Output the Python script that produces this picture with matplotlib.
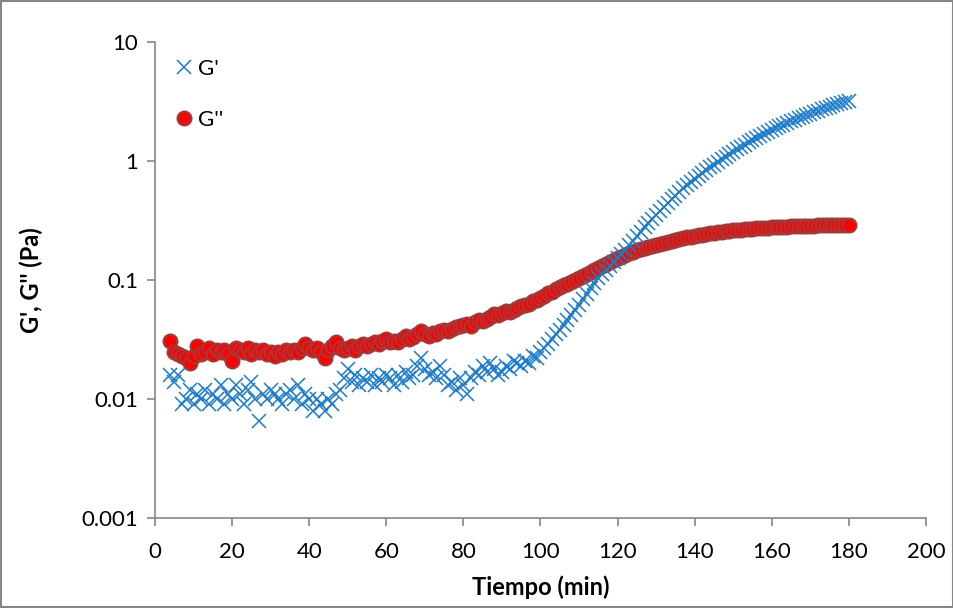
import numpy as np
import matplotlib.pyplot as plt
from matplotlib.patches import Rectangle

plt.rcParams['font.family'] = ['Lato', 'DejaVu Sans']

# tiempo (min), una medida por minuto
tiempo = np.arange(4, 181)

# G' (Pa)
g_prima = [
    0.016, 0.014, 0.016, 0.009, 0.010, 0.012, 0.009, 0.011, 0.010, 0.012,
    0.009, 0.011, 0.010, 0.013, 0.009, 0.011, 0.010, 0.013, 0.011, 0.009,
    0.012, 0.014, 0.010, 0.0065, 0.011, 0.010, 0.012, 0.011, 0.010, 0.009,
    0.011, 0.012, 0.010, 0.013, 0.009, 0.011, 0.010, 0.008, 0.010, 0.009,
    0.008, 0.010, 0.009, 0.011, 0.012, 0.015, 0.018, 0.014, 0.016, 0.013,
    0.015, 0.014, 0.016, 0.013, 0.015, 0.014, 0.016, 0.015, 0.013, 0.016,
    0.014, 0.017, 0.015, 0.016, 0.019, 0.022, 0.018, 0.016, 0.017, 0.015,
    0.019, 0.016, 0.013, 0.014, 0.012, 0.015, 0.013, 0.011, 0.015, 0.017,
    0.016, 0.019, 0.017, 0.020, 0.018, 0.016, 0.017, 0.019, 0.018, 0.021,
    0.020, 0.019, 0.021, 0.020, 0.023, 0.022, 0.025, 0.027, 0.029, 0.032,
    0.035, 0.038, 0.042, 0.046, 0.051, 0.056, 0.062, 0.069, 0.076, 0.085,
    0.094, 0.104, 0.113, 0.122, 0.132, 0.142, 0.152, 0.166, 0.180, 0.196,
    0.214, 0.234, 0.255, 0.278, 0.301, 0.325, 0.35, 0.38, 0.41, 0.44,
    0.475, 0.51, 0.55, 0.59, 0.63, 0.67, 0.71, 0.75, 0.80, 0.84,
    0.885, 0.93, 0.98, 1.03, 1.08, 1.135, 1.19, 1.25, 1.31, 1.37,
    1.44, 1.50, 1.56, 1.62, 1.68, 1.75, 1.81, 1.88, 1.95, 2.02,
    2.09, 2.16, 2.23, 2.30, 2.36, 2.43, 2.50, 2.57, 2.64, 2.71,
    2.79, 2.86, 2.93, 3.00, 3.07, 3.14, 3.20,
]

# G'' (Pa)
g_segunda = [
    0.031, 0.025, 0.024, 0.023, 0.022, 0.020, 0.023, 0.028, 0.024, 0.025,
    0.027, 0.024, 0.026, 0.025, 0.026, 0.024, 0.021, 0.027, 0.026, 0.025,
    0.027, 0.024, 0.026, 0.025, 0.026, 0.024, 0.025, 0.023, 0.025, 0.024,
    0.026, 0.025, 0.026, 0.025, 0.027, 0.029, 0.027, 0.026, 0.027, 0.025,
    0.022, 0.026, 0.028, 0.030, 0.027, 0.026, 0.027, 0.028, 0.026, 0.028,
    0.029, 0.028, 0.029, 0.030, 0.029, 0.031, 0.032, 0.030, 0.031, 0.030,
    0.032, 0.034, 0.032, 0.033, 0.035, 0.037, 0.035, 0.034, 0.036, 0.035,
    0.037, 0.038, 0.037, 0.039, 0.040, 0.041, 0.042, 0.043, 0.041, 0.044,
    0.046, 0.045, 0.047, 0.049, 0.052, 0.051, 0.053, 0.055, 0.054, 0.056,
    0.058, 0.060, 0.062, 0.063, 0.066, 0.068, 0.071, 0.074, 0.077, 0.080,
    0.084, 0.087, 0.090, 0.093, 0.097, 0.100, 0.104, 0.108, 0.112, 0.116,
    0.121, 0.126, 0.131, 0.136, 0.141, 0.147, 0.152, 0.157, 0.162, 0.167,
    0.172, 0.177, 0.182, 0.186, 0.190, 0.194, 0.198, 0.202, 0.206, 0.210,
    0.214, 0.218, 0.222, 0.225, 0.228, 0.231, 0.234, 0.237, 0.240, 0.243,
    0.246, 0.249, 0.252, 0.255, 0.257, 0.259, 0.261, 0.263, 0.265, 0.267,
    0.269, 0.270, 0.272, 0.273, 0.275, 0.276, 0.277, 0.278, 0.279, 0.280,
    0.281, 0.282, 0.283, 0.284, 0.285, 0.285, 0.286, 0.286, 0.287, 0.287,
    0.288, 0.288, 0.288, 0.289, 0.289, 0.289, 0.289,
]

x_ticks = [0, 20, 40, 60, 80, 100, 120, 140, 160, 180, 200]
y_ticks = [0.001, 0.01, 0.1, 1, 10]
y_labels = ['0.001', '0.01', '0.1', '1', '10']

gris = '#868686'

fig = plt.figure(figsize=(9.54, 6.08), dpi=100)
ax = fig.add_axes([0.1625, 0.148, 0.8081, 0.783])

l2, = ax.plot(tiempo, g_segunda, linestyle='none', marker='o', markersize=10,
              markerfacecolor='#FF0000', markeredgecolor='#A33A3A',
              markeredgewidth=1.5, label="G''", zorder=2)
l1, = ax.plot(tiempo, g_prima, linestyle='none', marker='x', markersize=9.5,
              color='#1C7BC9', markeredgewidth=1.1, label="G'", zorder=3)

ax.set_yscale('log')
ax.set_xlim(0, 200)
ax.set_ylim(0.001, 10)
ax.set_xticks(x_ticks)
ax.set_yticks(y_ticks)
ax.set_yticklabels(y_labels)
ax.minorticks_off()

for s in ['top', 'right']:
    ax.spines[s].set_visible(False)
for s in ['left', 'bottom']:
    ax.spines[s].set_color(gris)
    ax.spines[s].set_linewidth(1.2)
ax.tick_params(axis='both', direction='out', length=6, width=1.2, color=gris,
               labelsize=16)
ax.tick_params(axis='x', pad=11)
ax.tick_params(axis='y', pad=6)

ax.set_xlabel('Tiempo (min)', fontsize=17, fontweight='bold', labelpad=10)
ax.set_ylabel("G', G'' (Pa)", fontsize=17, fontweight='bold', labelpad=28)

ax.legend(handles=[l1, l2], loc='upper left', bbox_to_anchor=(-0.008, 1.02),
          frameon=False, fontsize=16, labelspacing=1.4, handlelength=0.8,
          handletextpad=0.2, borderaxespad=0.8, markerscale=1.0)

# marco exterior
fig.patches.append(Rectangle((0.001, 0.001), 0.998, 0.998, transform=fig.transFigure,
                             fill=False, edgecolor=gris, linewidth=1.5))

fig.savefig('out.png', dpi=100)
